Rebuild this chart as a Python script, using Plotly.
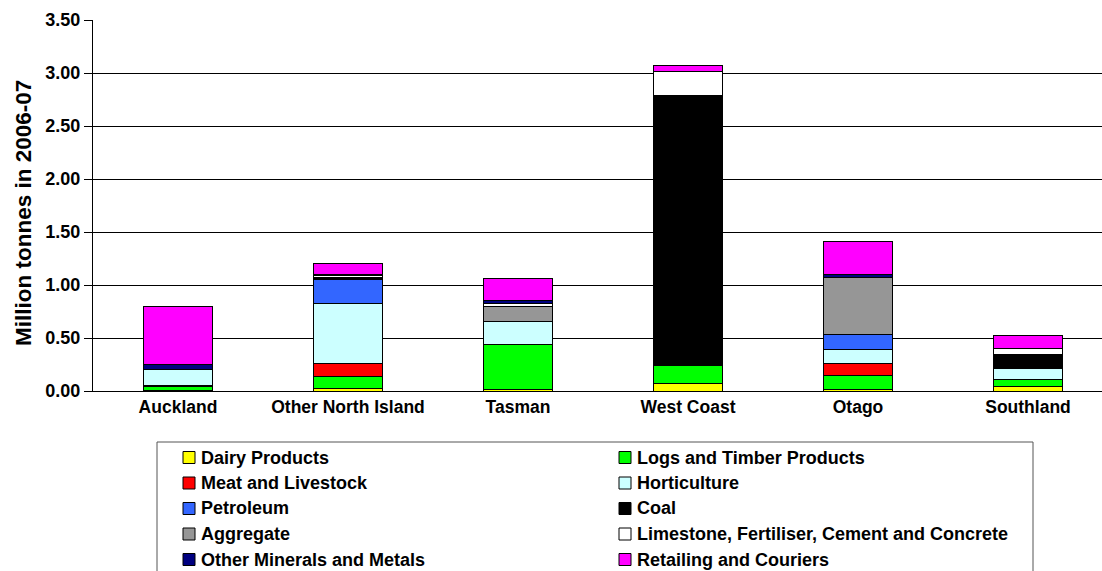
import plotly.graph_objects as go

# Regions along the category axis
regions = ["Auckland", "Other North Island", "Tasman", "West Coast", "Otago", "Southland"]

# Freight volumes by commodity (million tonnes, 2006-07), stacked bottom to top
dairy      = [0.005, 0.02, 0.015, 0.07, 0.015, 0.04]
logs       = [0.035, 0.12, 0.425, 0.17, 0.13, 0.065]
meat       = [0.01, 0.12, 0.0, 0.0, 0.115, 0.0]
horti      = [0.155, 0.57, 0.22, 0.01, 0.13, 0.105]
petroleum  = [0.0, 0.22, 0.0, 0.01, 0.14, 0.0]
coal       = [0.0, 0.02, 0.0, 2.53, 0.0, 0.135]
aggregate  = [0.0, 0.0, 0.14, 0.0, 0.54, 0.0]
limestone  = [0.0, 0.02, 0.03, 0.225, 0.005, 0.06]
minerals   = [0.045, 0.01, 0.02, 0.0, 0.02, 0.0]
retail     = [0.55, 0.10, 0.21, 0.055, 0.32, 0.115]

series_names = [
    "Dairy Products", "Logs and Timber Products",
    "Meat and Livestock", "Horticulture",
    "Petroleum", "Coal",
    "Aggregate", "Limestone, Fertiliser, Cement and Concrete",
    "Other Minerals and Metals", "Retailing and Couriers",
]
series_values = [dairy, logs, meat, horti, petroleum, coal,
                 aggregate, limestone, minerals, retail]
series_colors = ["#FFFF00", "#00FF00", "#FF0000", "#CCFFFF", "#3366FF",
                 "#000000", "#969696", "#FFFFFF", "#000080", "#FF00FF"]

y_ticks = [0, 0.5, 1.0, 1.5, 2.0, 2.5, 3.0, 3.5]

FONT = "Liberation Sans, Arial, sans-serif"
W, H = 1102, 571
ML, MT, MB = 93, 20, 180
plot_w = W - ML
plot_h = H - MT - MB

fig = go.Figure()
for name, vals, col in zip(series_names, series_values, series_colors):
    fig.add_trace(go.Bar(
        x=regions, y=vals, name=name,
        marker=dict(color=col, line=dict(color="#000000", width=1)),
        showlegend=False,
    ))

# pixel -> paper helpers for the boxed legend below the plot
def px_x(px):
    return (px - ML) / plot_w

def px_y(py):
    return (H - MB - py) / plot_h

shapes = [dict(type="rect", xref="paper", yref="paper",
               x0=px_x(157), x1=px_x(1033), y0=px_y(576), y1=px_y(442),
               line=dict(color="#555555", width=1), fillcolor="rgba(0,0,0,0)")]
annotations = []
col_x = [183, 619]
row_y = [457.5, 483.0, 508.5, 534.0, 559.5]
for i, (name, col) in enumerate(zip(series_names, series_colors)):
    cx = col_x[i % 2]
    cy = row_y[i // 2]
    shapes.append(dict(type="rect", xref="paper", yref="paper",
                       x0=px_x(cx), x1=px_x(cx + 12),
                       y0=px_y(cy + 6), y1=px_y(cy - 6),
                       line=dict(color="#000000", width=1), fillcolor=col))
    annotations.append(dict(xref="paper", yref="paper",
                            x=px_x(cx + 16), y=px_y(cy),
                            xanchor="left", yanchor="middle", showarrow=False,
                            text="<b>%s</b>" % name,
                            font=dict(family=FONT, size=18, color="#000000")))

# vertical axis title
annotations.append(dict(xref="paper", yref="paper",
                        x=px_x(23), y=px_y(213),
                        xanchor="center", yanchor="middle", showarrow=False,
                        textangle=-90,
                        text="<b>Million tonnes in 2006-07</b>",
                        font=dict(family=FONT, size=22.5, color="#000000")))

fig.update_layout(
    width=W, height=H,
    margin=dict(l=ML, r=0, t=MT, b=MB, pad=0),
    barmode="stack", bargap=0.594,
    plot_bgcolor="#FFFFFF", paper_bgcolor="#FFFFFF",
    font=dict(family=FONT, size=17, color="#000000"),
    shapes=shapes, annotations=annotations,
)
fig.update_xaxes(
    range=[-0.5, -0.5 + plot_w / 170.0],
    showline=True, linecolor="#000000", linewidth=1,
    ticks="", showgrid=False,
    tickfont=dict(family=FONT, size=17.5, color="#000000", weight="bold"),
)
fig.update_yaxes(
    range=[0, 3.5], tickvals=y_ticks, tickformat=".2f",
    showgrid=True, gridcolor="#000000", gridwidth=1,
    showline=True, linecolor="#000000", linewidth=1,
    ticks="outside", ticklen=8, tickcolor="#000000",
    tickfont=dict(family=FONT, size=18, color="#000000", weight="bold"),
    zeroline=False,
)

fig.write_html("out.html")
